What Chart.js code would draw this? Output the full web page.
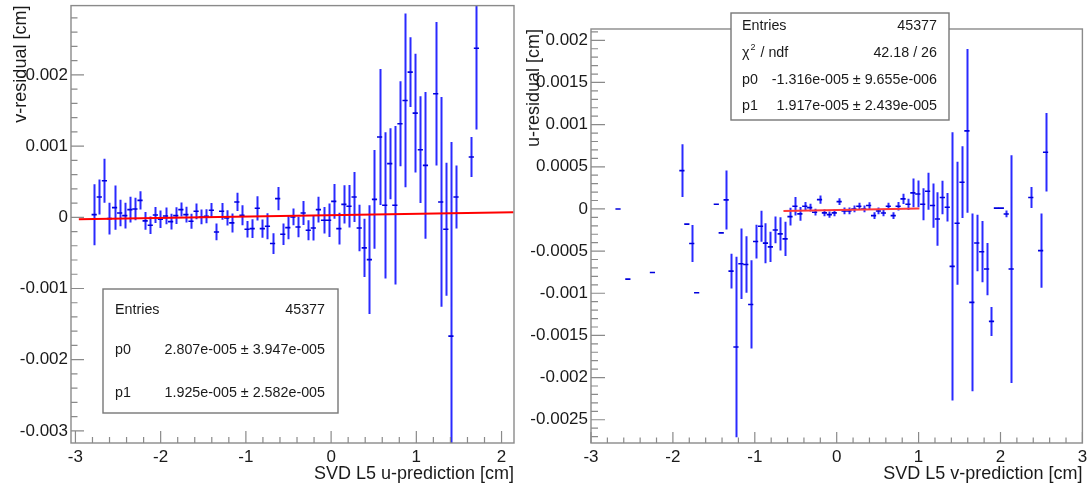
<!DOCTYPE html>
<html>
<head>
<meta charset="utf-8">
<script src="https://cdn.jsdelivr.net/npm/chart.js@4/dist/chart.umd.min.js"></script>
<style>
  html, body { margin: 0; padding: 0; background: #fff; }
  #wrap { position: relative; width: 1088px; height: 488px; overflow: hidden; background: #fff; }
  canvas { position: absolute; top: 0; }
  #cvL { left: 0; width: 520px; height: 488px; }
  #cvR { left: 520px; width: 568px; height: 488px; }
</style>
</head>
<body>
<div id="wrap">
  <canvas id="cvL" width="520" height="488"></canvas>
  <canvas id="cvR" width="568" height="488"></canvas>
</div>
<script>
const FONT = '"Liberation Sans", Arial, Helvetica, sans-serif';
const TEXT = '#1a1a1a';

// ---------- left profile: v-residual vs u-prediction (bin centres in cm) ----------
const uPred = [
  -2.780, -2.720, -2.660, -2.601, -2.541, -2.481, -2.421, -2.361, -2.302, -2.242,
  -2.182, -2.122, -2.062, -2.003, -1.943, -1.883, -1.823, -1.763, -1.704, -1.644,
  -1.584, -1.524, -1.464, -1.405, -1.345, -1.285, -1.225, -1.165, -1.106, -1.046,
  -0.986, -0.926, -0.866, -0.807, -0.747, -0.687, -0.627, -0.567, -0.508, -0.448,
  -0.388, -0.328, -0.268, -0.209, -0.149, -0.089, -0.029,  0.031,  0.091,  0.150,
   0.210,  0.270,  0.330,  0.389,  0.449,  0.509,  0.569,  0.629,  0.688,  0.748,
   0.808,  0.868,  0.928,  0.987,  1.047,  1.107,  1.227,  1.286,  1.346,  1.406,
   1.466,  1.645,  1.705
];
const vResid = [
   0.037e-3,  0.285e-3,  0.514e-3, -0.019e-3,  0.136e-3,  0.061e-3,  0.023e-3,  0.108e-3,  0.117e-3,  0.238e-3,
  -0.051e-3, -0.112e-3,  0.033e-3, -0.028e-3,  0.019e-3, -0.061e-3,  0.023e-3,  0.108e-3,  0.037e-3, -0.056e-3,
   0.084e-3,  0.005e-3,  0.014e-3,  0.098e-3, -0.206e-3,  0.084e-3, -0.009e-3, -0.079e-3,  0.215e-3,  0.028e-3,
  -0.168e-3, -0.159e-3,  0.126e-3, -0.159e-3, -0.126e-3, -0.369e-3,  0.262e-3, -0.238e-3, -0.145e-3,  0.005e-3,
  -0.136e-3,  0.061e-3, -0.182e-3, -0.150e-3,  0.108e-3, -0.042e-3, -0.042e-3,  0.224e-3, -0.159e-3,  0.182e-3,
   0.154e-3,  0.285e-3, -0.150e-3, -0.430e-3, -0.594e-3,  0.252e-3,  1.127e-3,  0.168e-3,  0.753e-3,  0.168e-3,
   1.314e-3,  1.641e-3,  2.038e-3,  1.463e-3,  0.949e-3,  0.729e-3,  1.734e-3,  0.215e-3, -0.168e-3, -1.669e-3,
   0.285e-3,  0.846e-3,  2.375e-3
];
const vResidErr = [
  0.428e-3, 0.245e-3, 0.309e-3, 0.222e-3, 0.311e-3, 0.187e-3, 0.180e-3, 0.182e-3, 0.157e-3, 0.129e-3,
  0.124e-3, 0.122e-3, 0.112e-3, 0.124e-3, 0.117e-3, 0.112e-3, 0.117e-3, 0.098e-3, 0.110e-3, 0.105e-3,
  0.110e-3, 0.103e-3, 0.098e-3, 0.103e-3, 0.117e-3, 0.117e-3, 0.108e-3, 0.133e-3, 0.128e-3, 0.140e-3,
  0.117e-3, 0.133e-3, 0.170e-3, 0.129e-3, 0.182e-3, 0.145e-3, 0.164e-3, 0.152e-3, 0.164e-3, 0.117e-3,
  0.145e-3, 0.168e-3, 0.140e-3, 0.175e-3, 0.182e-3, 0.187e-3, 0.234e-3, 0.245e-3, 0.224e-3, 0.269e-3,
  0.299e-3, 0.351e-3, 0.327e-3, 0.409e-3, 0.764e-3, 0.694e-3, 0.956e-3, 1.026e-3, 0.498e-3, 1.113e-3,
  0.596e-3, 1.220e-3, 0.489e-3, 0.835e-3, 0.750e-3, 1.031e-3, 1.008e-3, 1.473e-3, 0.933e-3, 2.725e-3,
  0.444e-3, 0.281e-3, 1.141e-3
];
const vFitP0 = 2.807e-5;
const vFitP1 = 1.925e-5;
const vFitRange = [-2.96, 2.14];
const vXTicks = [-3, -2, -1, 0, 1, 2];
const vXTickLabels = ['-3', '-2', '-1', '0', '1', '2'];
const vYTicks = [-0.003, -0.002, -0.001, 0, 0.001, 0.002];
const vYTickLabels = ['-0.003', '-0.002', '-0.001', '0', '0.001', '0.002'];
const vStatNames = ['Entries', 'p0', 'p1'];
const vStatValues = ['45377', '2.807e-005 \u00b1 3.947e-005', '1.925e-005 \u00b1 2.582e-005'];

// ---------- right profile: u-residual vs v-prediction ----------
const vPred = [
  -2.67, -2.55, -2.25,
  -1.89, -1.83, -1.77, -1.71,
  -1.47, -1.41, -1.35, -1.29, -1.23, -1.17, -1.11, -1.05,
  -0.99, -0.93, -0.87, -0.81, -0.75, -0.69, -0.63, -0.57, -0.51, -0.45, -0.39, -0.33, -0.27, -0.21, -0.15, -0.09, -0.03,
   0.03,  0.09,  0.15,  0.21,  0.27,  0.33,  0.39,  0.45,  0.51,  0.57,  0.63,  0.69,  0.75,  0.81,  0.87,  0.93,  0.99,
   1.05,  1.11,  1.17,  1.23,  1.29,  1.35,  1.41,  1.47,  1.53,  1.59,  1.65,  1.71,  1.77,  1.83,  1.89,  1.95,  2.01,  2.07,  2.13,
   2.37,  2.49,  2.55
];
const uResid = [
   0.000e-3, -0.833e-3, -0.754e-3,
   0.454e-3, -0.180e-3, -0.410e-3, -0.994e-3,
   0.055e-3, -0.284e-3,  0.107e-3, -0.738e-3, -1.638e-3, -0.651e-3, -0.659e-3, -1.133e-3,
  -0.387e-3, -0.205e-3, -0.406e-3, -0.450e-3, -0.249e-3, -0.296e-3, -0.355e-3, -0.091e-3,  0.032e-3, -0.059e-3,
   0.032e-3,  0.016e-3, -0.039e-3,  0.110e-3, -0.047e-3, -0.067e-3, -0.047e-3,
   0.087e-3, -0.024e-3, -0.024e-3,  0.000e-3,  0.032e-3,  0.000e-3,  0.040e-3, -0.079e-3, -0.024e-3, -0.048e-3,
   0.032e-3, -0.079e-3,  0.032e-3,  0.119e-3,  0.055e-3,  0.190e-3,  0.178e-3,
   0.055e-3,  0.210e-3,  0.040e-3, -0.119e-3,  0.135e-3,  0.020e-3, -0.681e-3, -0.170e-3,  0.317e-3,  0.926e-3,
  -1.108e-3, -0.404e-3, -0.507e-3, -0.713e-3, -1.334e-3,  0.010e-3,  0.010e-3, -0.060e-3, -0.713e-3,
   0.135e-3, -0.495e-3,  0.673e-3
];
const uResidErr = [
  0, 0, 0,
  0.312e-3, 0, 0.220e-3, 0,
  0, 0, 0.350e-3, 0.207e-3, 1.070e-3, 0.418e-3, 0.334e-3, 0.523e-3,
  0.200e-3, 0.184e-3, 0.237e-3, 0.178e-3, 0.158e-3, 0.197e-3, 0.203e-3, 0.105e-3, 0.109e-3, 0.081e-3,
  0.050e-3, 0.045e-3, 0.040e-3, 0.050e-3, 0.040e-3, 0.038e-3, 0.040e-3,
  0.040e-3, 0.040e-3, 0.040e-3, 0.040e-3, 0.040e-3, 0.040e-3, 0.040e-3, 0.040e-3, 0.040e-3, 0.040e-3,
  0.040e-3, 0.040e-3, 0.050e-3, 0.060e-3, 0.067e-3, 0.170e-3, 0.158e-3,
  0.190e-3, 0.220e-3, 0.263e-3, 0.317e-3, 0.198e-3, 0.170e-3, 1.590e-3, 0.730e-3, 0.426e-3, 0.970e-3,
  1.053e-3, 0.335e-3, 0.364e-3, 0.310e-3, 0.172e-3, 0, 0, 0.040e-3, 1.350e-3,
  0.125e-3, 0.440e-3, 0.465e-3
];
const uFitP0 = -1.316e-5;
const uFitP1 = 1.917e-5;
const uFitRange = [-0.65, 1.01];
const uXTicks = [-3, -2, -1, 0, 1, 2, 3];
const uXTickLabels = ['-3', '-2', '-1', '0', '1', '2', '3'];
const uYTicks = [-0.0025, -0.002, -0.0015, -0.001, -0.0005, 0, 0.0005, 0.001, 0.0015, 0.002];
const uYTickLabels = ['-0.0025', '-0.002', '-0.0015', '-0.001', '-0.0005', '0', '0.0005', '0.001', '0.0015', '0.002'];
const uStatNames = ['Entries', 'chi2', 'p0', 'p1'];
const uStatValues = ['45377', '42.18 / 26', '-1.316e-005 \u00b1 9.655e-006', '1.917e-005 \u00b1 2.439e-005'];

// ---------- plugins ----------
// vertical error bars, drawn through the chart scales and clipped to the frame
const errorBarPlugin = {
  id: 'errorBars',
  beforeDatasetsDraw(chart, args, opts) {
    const { ctx, chartArea: a, scales: { x, y } } = chart;
    ctx.save();
    ctx.beginPath();
    ctx.rect(a.left, a.top, a.right - a.left, a.bottom - a.top);
    ctx.clip();
    ctx.strokeStyle = opts.color;
    ctx.lineWidth = opts.width;
    chart.data.datasets.forEach(ds => {
      if (!ds.withErrors) return;
      ds.data.forEach(p => {
        if (!p.err) return;
        const px = Math.round(x.getPixelForValue(p.x)) + 0.5;
        ctx.beginPath();
        ctx.moveTo(px, y.getPixelForValue(p.y + p.err));
        ctx.lineTo(px, y.getPixelForValue(p.y - p.err));
        ctx.stroke();
      });
    });
    ctx.restore();
  }
};

// frame box with inward major/minor ticks on the left and bottom axes
const framePlugin = {
  id: 'rootFrame',
  afterDatasetsDraw(chart, args, o) {
    const { ctx, chartArea: a, scales: { x, y } } = chart;
    ctx.save();
    ctx.strokeStyle = o.color;
    ctx.lineWidth = 1.4;
    ctx.strokeRect(a.left, a.top, a.right - a.left, a.bottom - a.top);
    ctx.lineWidth = 1.2;
    const walk = (scale, step, fn) => {
      const k0 = Math.ceil(scale.min / step - 1e-6);
      const k1 = Math.floor(scale.max / step + 1e-6);
      for (let k = k0; k <= k1; k++) fn(scale.getPixelForValue(k * step), k % 5 === 0);
    };
    ctx.beginPath();
    walk(x, o.xMinor, (px, major) => {
      ctx.moveTo(px, a.bottom);
      ctx.lineTo(px, a.bottom - (major ? o.xMajorLen : o.xMinorLen));
    });
    walk(y, o.yMinor, (py, major) => {
      ctx.moveTo(a.left, py);
      ctx.lineTo(a.left + (major ? o.yMajorLen : o.yMinorLen), py);
    });
    ctx.stroke();
    ctx.restore();
  }
};

// statistics box
const statPlugin = {
  id: 'statBox',
  afterDraw(chart, args, o) {
    const { ctx } = chart;
    ctx.save();
    ctx.fillStyle = '#ffffff';
    ctx.fillRect(o.x, o.y, o.w, o.h);
    ctx.strokeStyle = '#777777';
    ctx.lineWidth = 1.4;
    ctx.strokeRect(o.x, o.y, o.w, o.h);
    ctx.fillStyle = TEXT;
    ctx.textBaseline = 'middle';
    o.names.forEach((name, i) => {
      const yy = o.rows[i];
      ctx.font = '14.3px ' + FONT;
      ctx.textAlign = 'left';
      if (name === 'chi2') {
        ctx.fillText('\u03c7', o.textLeft, yy);
        const w = ctx.measureText('\u03c7').width;
        ctx.font = '9px ' + FONT;
        ctx.fillText('2', o.textLeft + w + 1, yy - 5);
        ctx.font = '14.3px ' + FONT;
        ctx.fillText(' / ndf', o.textLeft + w + 7, yy);
      } else {
        ctx.fillText(name, o.textLeft, yy);
      }
      ctx.textAlign = 'right';
      ctx.fillText(o.values[i], o.textRight, yy);
    });
    ctx.restore();
  }
};

Chart.defaults.font.family = FONT;
Chart.defaults.color = TEXT;

function profilePanel(canvasId, cfg) {
  const points = cfg.xs.map((xv, i) => ({ x: xv, y: cfg.ys[i], err: cfg.errs[i] }));
  const fit = cfg.fitRange.map(xv => ({ x: xv, y: cfg.p0 + cfg.p1 * xv }));
  return new Chart(document.getElementById(canvasId), {
    type: 'scatter',
    data: {
      datasets: [
        { data: fit, showLine: true, borderColor: cfg.fitColor, borderWidth: 2,
          pointRadius: 0, fill: false, tension: 0 },
        { data: points, withErrors: true, pointStyle: 'line', pointRadius: 2.6,
          borderColor: '#0000dd', backgroundColor: '#0000dd', borderWidth: 1.6, showLine: false }
      ]
    },
    options: {
      responsive: false,
      animation: false,
      devicePixelRatio: 1,
      layout: { padding: cfg.padding },
      events: [],
      plugins: {
        legend: { display: false },
        tooltip: { enabled: false },
        errorBars: { color: '#2a2aff', width: 2 },
        rootFrame: Object.assign({ color: '#8a8a8a' }, cfg.tickLens),
        statBox: cfg.stats
      },
      scales: {
        x: {
          type: 'linear', min: cfg.xRange[0], max: cfg.xRange[1],
          afterBuildTicks: s => { s.ticks = cfg.xTicks.map(v => ({ value: v })); },
          afterFit: s => { s.height = 45; s.paddingLeft = 0; s.paddingRight = 0; },
          grid: { display: false, drawTicks: false },
          border: { display: false },
          ticks: { autoSkip: false, maxRotation: 0, padding: 4, font: { size: 17 }, color: TEXT,
                   callback: (v, i) => cfg.xTickLabels[i] },
          title: { display: true, text: cfg.xTitle, align: 'end', color: TEXT,
                   font: { size: 18 }, padding: { top: 0, bottom: 3 } }
        },
        y: {
          type: 'linear', min: cfg.yRange[0], max: cfg.yRange[1],
          afterBuildTicks: s => { s.ticks = cfg.yTicks.map(v => ({ value: v })); },
          afterFit: s => { s.width = 71; s.paddingTop = 0; s.paddingBottom = 0; },
          grid: { display: false, drawTicks: false },
          border: { display: false },
          ticks: { autoSkip: false, padding: 3, font: { size: 17 }, color: TEXT,
                   callback: (v, i) => cfg.yTickLabels[i] },
          title: { display: true, text: cfg.yTitle, align: 'end', color: TEXT,
                   font: { size: 18 }, padding: { top: cfg.yTitlePad, bottom: 0 } }
        }
      }
    },
    plugins: [errorBarPlugin, framePlugin, statPlugin]
  });
}

profilePanel('cvL', {
  xs: uPred, ys: vResid, errs: vResidErr,
  p0: vFitP0, p1: vFitP1, fitRange: vFitRange, fitColor: '#ff0000',
  xRange: [-3.052, 2.146], yRange: [-0.00317, 0.002973],
  xTicks: vXTicks, xTickLabels: vXTickLabels, yTicks: vYTicks, yTickLabels: vYTickLabels,
  xTitle: 'SVD L5 u-prediction [cm]', yTitle: 'v-residual [cm]', yTitlePad: 10,
  padding: { left: 0, top: 5, right: 6, bottom: 0 },
  tickLens: { xMinor: 0.2, yMinor: 0.0002, xMajorLen: 12, xMinorLen: 6, yMajorLen: 13, yMinorLen: 6.5 },
  stats: { x: 103, y: 289, w: 235, h: 124, textLeft: 115, textRight: 325,
           rows: [310, 350, 393], names: vStatNames, values: vStatValues }
});

profilePanel('cvR', {
  xs: vPred, ys: uResid, errs: uResidErr,
  p0: uFitP0, p1: uFitP1, fitRange: uFitRange, fitColor: '#ff3a3a',
  xRange: [-3, 3], yRange: [-0.002776, 0.002134],
  xTicks: uXTicks, xTickLabels: uXTickLabels, yTicks: uYTicks, yTickLabels: uYTickLabels,
  xTitle: 'SVD L5 v-prediction [cm]', yTitle: 'u-residual [cm]', yTitlePad: 3.6,
  padding: { left: 0, top: 29, right: 5, bottom: 0 },
  tickLens: { xMinor: 0.2, yMinor: 0.0001, xMajorLen: 11, xMinorLen: 5.5, yMajorLen: 14, yMinorLen: 7 },
  stats: { x: 211, y: 13, w: 218, h: 107, textLeft: 222, textRight: 417,
           rows: [26, 53, 80, 106], names: uStatNames, values: uStatValues }
});
</script>
</body>
</html>
